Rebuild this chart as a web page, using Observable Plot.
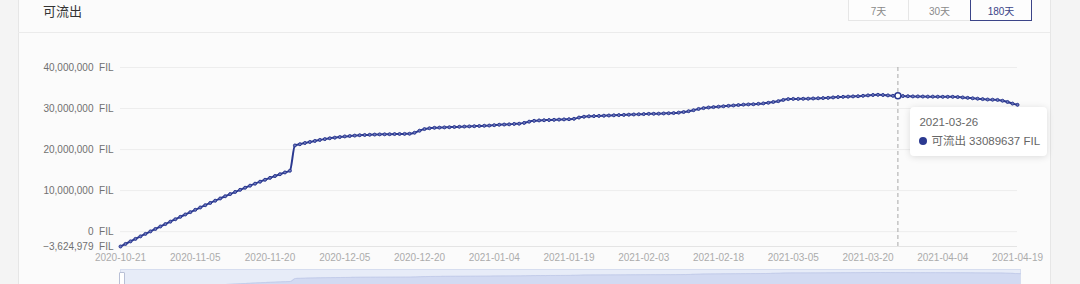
<!DOCTYPE html>
<html>
<head>
<meta charset="utf-8">
<script src="https://cdn.jsdelivr.net/npm/d3@7"></script>
<script src="https://cdn.jsdelivr.net/npm/@observablehq/plot@0.6"></script>
<style>
  html, body { margin: 0; padding: 0; }
  body { width: 1080px; height: 284px; overflow: hidden; background: #f4f4f4; position: relative;
         font-family: "Liberation Sans", "Noto Sans CJK SC", sans-serif; }
  #card { position: absolute; left: 18px; top: -10px; width: 1031px; height: 310px; background: #fbfbfb;
          border-left: 1px solid #e6e6e6; border-right: 1px solid #e6e6e6; }
  #hline { position: absolute; left: 18px; top: 32px; width: 1032px; height: 1px; background: #ebebeb; }
  #title { position: absolute; left: 43px; top: 3px; font-size: 13px; line-height: 18px; color: #333; }
  .btn { position: absolute; top: -6px; height: 27px; box-sizing: border-box; border: 1px solid #e6e6e6;
         background: #fdfdfd; color: #8a8a8a; font-size: 10px; text-align: center; line-height: 33px; }
  .btn.sel { border: 1px solid #3b4488; color: #3b4488; }
  #main { position: absolute; left: 0; top: 40px; }
  #mini { position: absolute; left: 0; top: 268px; }
  #tip { position: absolute; background: #fff; border-radius: 4px; box-shadow: 0 1px 7px rgba(0,0,0,0.13);
         width: 137px; height: 49px; box-sizing: border-box; padding: 8px 0 0 9px; color: #666; font-size: 11.5px; }
  #tip .l1 { line-height: 14px; }
  #tip .l2 { line-height: 14px; margin-top: 5px; white-space: nowrap; }
  #tip .dot { display: inline-block; width: 8px; height: 8px; border-radius: 50%; background: #2b3990;
              margin-right: 4px; vertical-align: 0px; }
  #handle { position: absolute; left: 119px; top: 272px; width: 4px; height: 14px; background: #fff;
            border: 1px solid #b9c0d6; border-radius: 1px; }
</style>
</head>
<body>
<div id="card"></div>
<div id="hline"></div>
<div id="title">可流出</div>
<div class="btn" style="left:848px;width:61px;">7天</div>
<div class="btn" style="left:908px;width:63px;">30天</div>
<div class="btn sel" style="left:970px;width:62px;">180天</div>
<div id="main"></div>
<div id="mini"></div>
<div id="handle"></div>
<div id="tip"></div>
<script>
// ---- data (values in millions of FIL, one per day from startDate) ----
const seriesName = "可流出";
const unit = "FIL";
const startDate = "2020-10-21";
const valuesM = [
  -3.624979, -3.00, -2.38, -1.77, -1.16, -0.55, 0.05, 0.65, 1.25, 1.84,
  2.43, 3.02, 3.60, 4.18, 4.75, 5.32, 5.88, 6.44, 6.99, 7.54,
  8.08, 8.62, 9.15, 9.67, 10.19, 10.70, 11.20, 11.69, 12.17, 12.64,
  13.10, 13.55, 13.99, 14.42, 14.85, 21.00, 21.30, 21.60, 21.85, 22.10,
  22.35, 22.55, 22.75, 22.90, 23.05, 23.20, 23.30, 23.40, 23.50, 23.55,
  23.60, 23.65, 23.70, 23.72, 23.75, 23.78, 23.80, 23.82, 23.85, 24.10,
  24.60, 25.00, 25.20, 25.30, 25.35, 25.40, 25.45, 25.50, 25.55, 25.60,
  25.65, 25.70, 25.75, 25.80, 25.85, 25.95, 26.05, 26.10, 26.15, 26.25,
  26.30, 26.50, 26.80, 27.00, 27.10, 27.15, 27.20, 27.25, 27.30, 27.35,
  27.40, 27.50, 27.80, 28.00, 28.10, 28.15, 28.20, 28.25, 28.30, 28.35,
  28.40, 28.45, 28.50, 28.55, 28.60, 28.65, 28.70, 28.72, 28.75, 28.80,
  28.85, 28.90, 29.00, 29.15, 29.35, 29.60, 29.90, 30.10, 30.25, 30.35,
  30.45, 30.55, 30.65, 30.75, 30.85, 30.95, 31.00, 31.05, 31.15, 31.25,
  31.40, 31.60, 31.80, 32.10, 32.30, 32.35, 32.35, 32.38, 32.40, 32.45,
  32.50, 32.55, 32.60, 32.70, 32.80, 32.85, 32.90, 32.95, 33.00, 33.10,
  33.20, 33.30, 33.35, 33.30, 33.20, 33.10, 33.089637, 33.05, 33.00, 32.95,
  32.95, 32.92, 32.90, 32.90, 32.88, 32.85, 32.85, 32.85, 32.80, 32.70,
  32.60, 32.50, 32.40, 32.30, 32.20, 32.15, 32.10, 31.90, 31.60, 31.20,
  30.90
];
const xTickLabels = ["2020-10-21","2020-11-05","2020-11-20","2020-12-05","2020-12-20","2021-01-04",
  "2021-01-19","2021-02-03","2021-02-18","2021-03-05","2021-03-20","2021-04-04","2021-04-19"];
const yTicks = [-3624979, 0, 10000000, 20000000, 30000000, 40000000];
const hoverLabel = "2021-03-26";
const hoverValue = 33089637;

// ---- build table ----
const parse = d3.utcParse("%Y-%m-%d");
const start = parse(startDate);
const data = valuesM.map((v, i) => ({date: d3.utcDay.offset(start, i), value: Math.round(v * 1e6)}));
const xTicks = xTickLabels.map(parse);
const hoverDate = parse(hoverLabel);
const lineColor = "#2b3990";
const fontFamily = '"Liberation Sans", "Noto Sans CJK SC", sans-serif';
const yMin = yTicks[0];

const main = Plot.plot({
  width: 1080, height: 230,
  marginLeft: 120, marginRight: 63, marginTop: 27, marginBottom: 24,
  style: {fontFamily, fontSize: "10px", background: "transparent", overflow: "visible"},
  x: {type: "utc", domain: [data[0].date, data[data.length - 1].date], label: null},
  y: {domain: [yMin, 40000000], label: null},
  marks: [
    Plot.ruleY(yTicks.slice(1), {stroke: "#ededed", strokeWidth: 1}),
    Plot.ruleY([yMin], {stroke: "#e4e4e4", strokeWidth: 1}),
    Plot.ruleX([hoverDate], {stroke: "#a9a9a9", strokeWidth: 1, strokeDasharray: "4,3"}),
    Plot.line(data, {x: "date", y: "value", stroke: lineColor, strokeWidth: 2, curve: "monotone-x"}),
    Plot.dot(data, {x: "date", y: "value", r: 1.5, fill: "#6f79bd", stroke: lineColor, strokeWidth: 1}),
    Plot.dot([{date: hoverDate, value: hoverValue}], {x: "date", y: "value", r: 3, fill: "#fff", stroke: lineColor, strokeWidth: 1.5}),
    Plot.axisY(yTicks, {tickSize: 0, tickPadding: 7, color: "#707070", label: null,
      tickFormat: d => d3.format(",")(d) + "\u00a0\u00a0" + unit}),
    Plot.axisX(xTicks, {tickSize: 0, tickPadding: 7, color: "#ababab", label: null, tickFormat: d3.utcFormat("%Y-%m-%d")})
  ]
});
document.getElementById("main").appendChild(main);

// ---- slider with data shadow ----
const mini = Plot.plot({
  width: 1080, height: 40,
  marginLeft: 120, marginRight: 60, marginTop: 1, marginBottom: 0,
  style: {background: "transparent"},
  x: {type: "utc", domain: [data[0].date, data[data.length - 1].date], axis: null},
  y: {domain: [yMin, d3.max(data, d => d.value)], range: [22, 4], axis: null},
  marks: [
    Plot.frame({fill: "#e7ecf8", stroke: "#d6ddef"}),
    Plot.areaY(data, {x: "date", y1: yMin, y2: "value", fill: "#d2daf2", curve: "monotone-x"}),
    Plot.line(data, {x: "date", y: "value", stroke: "#c4cdea", strokeWidth: 1, curve: "monotone-x"})
  ]
});
document.getElementById("mini").appendChild(mini);

// ---- tooltip ----
const xs = main.scale("x"), ys = main.scale("y");
const tip = document.getElementById("tip");
tip.style.left = (xs.apply(hoverDate) + 13) + "px";
tip.style.top = (40 + ys.apply(hoverValue) + 12) + "px";
tip.innerHTML = `<div class="l1">${hoverLabel}</div><div class="l2"><span class="dot"></span>${seriesName} ${hoverValue} ${unit}</div>`;
</script>
</body>
</html>
